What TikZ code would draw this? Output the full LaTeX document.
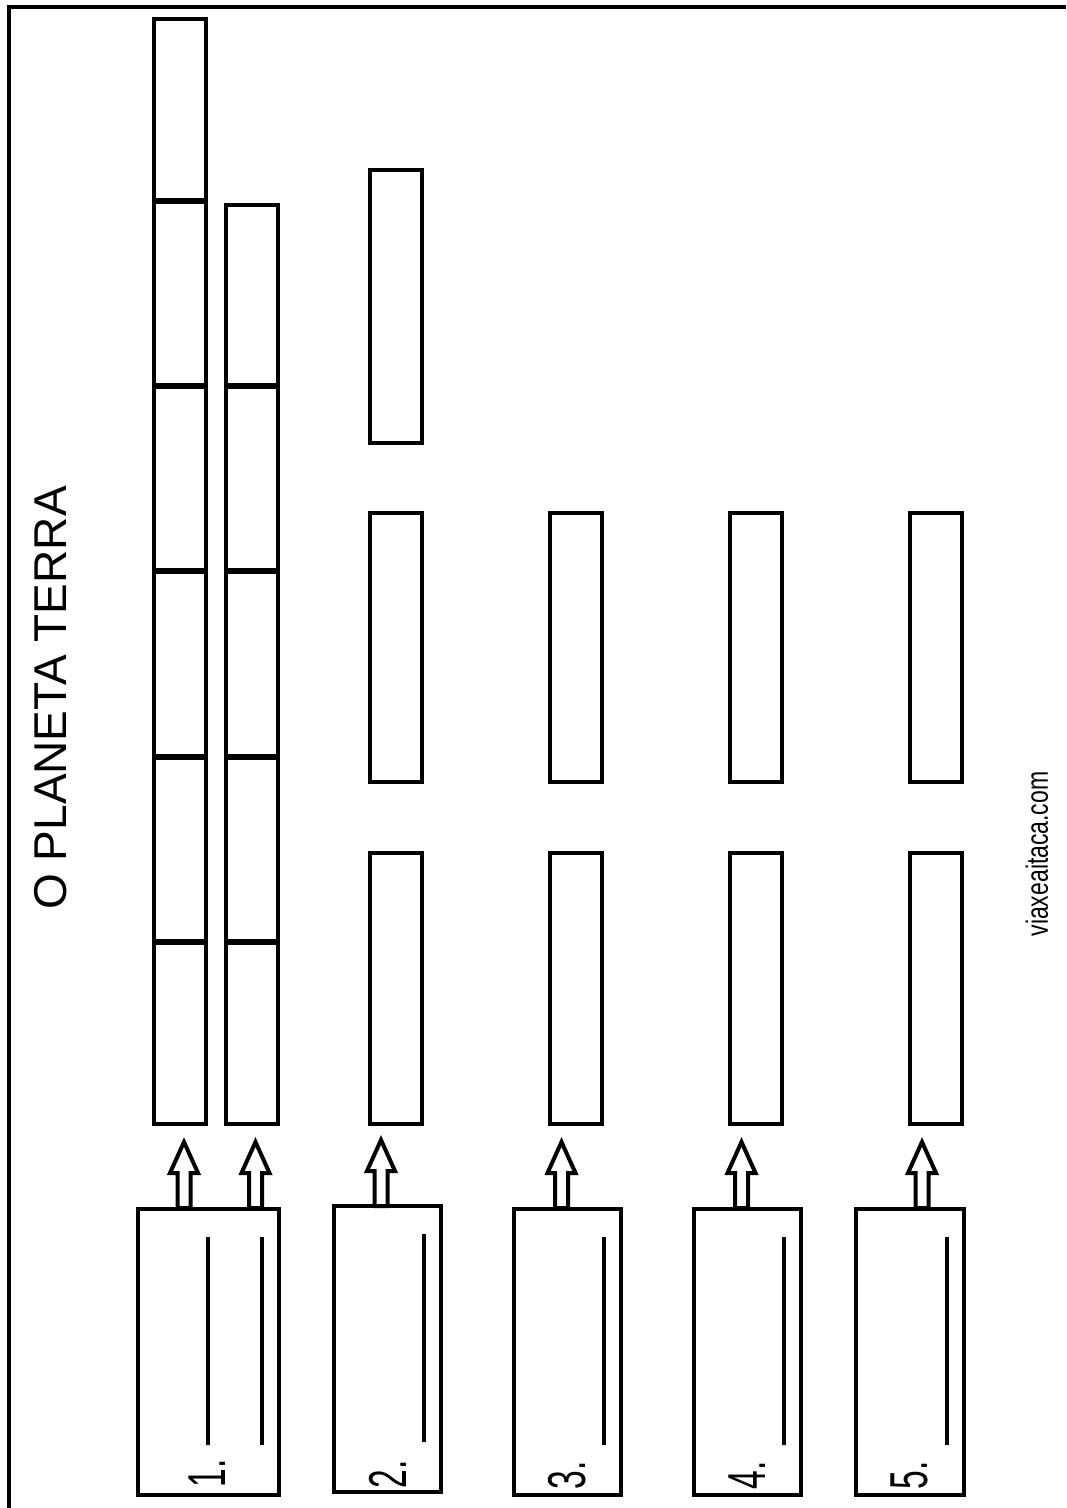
\documentclass[tikz,border=0pt]{standalone}
\usepackage{fontspec}
\usepackage{graphicx}
\setmainfont{Liberation Sans}
\usetikzlibrary{calc}
\newcommand\pxbox[5]{\node[cell, minimum width={(#4-#2)*0.75pt}, minimum height={(#5-#3)*0.75pt}] (#1) at ({(#2+#4)/2},{(#3+#5)/2}) {};}
\tikzset{
  cell/.style={draw, line width=3.3pt, inner sep=0pt, outer sep=0pt, shape=rectangle},
  divider/.style={line width=4.2pt},
  writeline/.style={line width=3pt},
  arrowline/.style={line width=3pt, line join=miter, fill=white},
  blockarrow/.pic={\draw[arrowline] (-6.5,0) -- (-6.5,-35) -- (-14,-35) -- (0,-66) -- (14,-35) -- (6.5,-35) -- (6.5,0) -- cycle;},
  numlabel/.style={rotate=90, inner sep=0pt, font=\fontsize{40pt}{40pt}\selectfont},
}
\begin{document}
\begin{tikzpicture}[x=0.75pt,y=-0.75pt]
\useasboundingbox (0,0) rectangle (1066,1508);
\fill[white] (0,0) rectangle (1066,1508);
% frame
\draw[line width=3pt] (9,1508) -- (9,7) -- (1066,7);
% title
\node[rotate=90, inner sep=0pt, font=\fontsize{34.5pt}{34.5pt}\selectfont] (title) at (51,698) {O PLANETA TERRA};
\node[rotate=90, inner sep=0pt, font=\fontsize{23pt}{23pt}\selectfont] (web) at (1037,854) {\scalebox{0.75}[1]{viaxeaitaca.com}};
% column 1
\pxbox{c1a}{154}{19}{206}{201}
\pxbox{c1b}{154}{201}{206}{386}
\pxbox{c1c}{154}{386}{206}{571}
\pxbox{c1d}{154}{571}{206}{757}
\pxbox{c1e}{154}{757}{206}{942}
\pxbox{c1f}{154}{942}{206}{1124}
% column 2
\pxbox{c2a}{226}{205}{278}{386}
\pxbox{c2b}{226}{386}{278}{571}
\pxbox{c2c}{226}{571}{278}{757}
\pxbox{c2d}{226}{757}{278}{942}
\pxbox{c2e}{226}{942}{278}{1124}
\foreach \n in {c1b,c1c,c1d,c1e,c1f,c2b,c2c,c2d,c2e}
  \draw[divider] (\n.north west) -- (\n.north east);
% column 3
\pxbox{c3a}{370}{170}{422}{443}
\pxbox{c3b}{370}{513}{422}{782}
\pxbox{c3c}{370}{853}{422}{1124}
% columns 4-6
\pxbox{c4a}{550}{513}{602}{782}
\pxbox{c4b}{550}{853}{602}{1124}
\pxbox{c5a}{730}{513}{782}{782}
\pxbox{c5b}{730}{853}{782}{1124}
\pxbox{c6a}{910}{513}{962}{782}
\pxbox{c6b}{910}{853}{962}{1124}
% arrows
\coordinate (a1) at (184,1208);
\coordinate (a2) at (255.5,1208);
\coordinate (a3) at (381,1206);
\coordinate (a4) at (561.5,1208);
\coordinate (a5) at (741.5,1208);
\coordinate (a6) at (922,1208);
\foreach \a in {a1,a2,a3,a4,a5,a6} \pic at (\a) {blockarrow};
% answer boxes
\pxbox{b1}{138}{1209}{279}{1495}
\pxbox{b2}{334}{1206}{441}{1492}
\pxbox{b3}{514}{1209}{621}{1495}
\pxbox{b4}{694}{1209}{801}{1495}
\pxbox{b5}{856}{1209}{964}{1495}
\draw[writeline] ($(b1.north east)+(-71,28)$) -- ($(b1.south east)+(-71,-50)$);
\foreach \b in {b1,b2,b3,b4,b5}
  \draw[writeline] ($(\b.north east)+(-17,28)$) -- ($(\b.south east)+(-17,-50)$);
% numbers
\node[numlabel] (n1) at (207,1473) {\scalebox{0.63}[1]{1.}};
\node[numlabel] (n2) at (388,1474) {\scalebox{0.63}[1]{2.}};
\node[numlabel] (n3) at (567,1475) {\scalebox{0.63}[1]{3.}};
\node[numlabel] (n4) at (747,1475) {\scalebox{0.63}[1]{4.}};
\node[numlabel] (n5) at (909,1475) {\scalebox{0.63}[1]{5.}};
\end{tikzpicture}
\end{document}
